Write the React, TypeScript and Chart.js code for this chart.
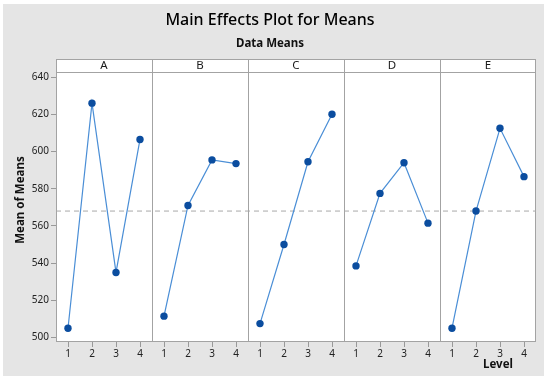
import React, { useEffect, useRef } from "react";
import { Chart, registerables } from "chart.js";

Chart.register(...registerables);

const titleText = "Main Effects Plot for Means";
const subtitleText = "Data Means";
const yAxisTitle = "Mean of Means";
const xAxisTitle = "Level";

const factors = ["A", "B", "C", "D", "E"];
const levels = [1, 2, 3, 4];
const meansA = [505, 626, 535, 606.5];
const meansB = [511.5, 571, 595.5, 593.5];
const meansC = [507.5, 550, 594.5, 620];
const meansD = [538.5, 577.5, 594, 561.5];
const meansE = [505, 568, 612.5, 586.5];
const seriesMeans = [meansA, meansB, meansC, meansD, meansE];
const grandMean = 568;
const yTicks = [500, 520, 540, 560, 580, 600, 620, 640];

const PANEL = 4; // x units per panel (levels 1..4 with half-unit margins)
const FONT = "'Noto Sans', 'Open Sans', sans-serif";

const toX = (panel: number, level: number) => panel * PANEL + level - 0.5;

const facetPlugin = {
  id: "facets",
  beforeDraw(chart: any) {
    const { ctx, chartArea } = chart;
    ctx.save();
    ctx.fillStyle = "#ffffff";
    ctx.fillRect(chartArea.left, chartArea.top - 13, chartArea.right - chartArea.left, chartArea.bottom - chartArea.top + 13);
    ctx.restore();
  },
  beforeDatasetsDraw(chart: any) {
    const { ctx, chartArea, scales } = chart;
    const x = scales.x;
    const stripTop = chartArea.top - 13;
    ctx.save();
    ctx.strokeStyle = "#a3a3a3";
    ctx.lineWidth = 1;
    for (let i = 1; i < factors.length; i++) {
      const px = Math.round(x.getPixelForValue(i * PANEL)) + 0.5;
      ctx.beginPath();
      ctx.moveTo(px, stripTop);
      ctx.lineTo(px, chartArea.bottom);
      ctx.stroke();
    }
    const l = Math.round(chartArea.left) + 0.5;
    const r = Math.round(chartArea.right) - 0.5;
    const t = Math.round(chartArea.top) + 0.5;
    const b = Math.round(chartArea.bottom) - 0.5;
    ctx.strokeRect(l, Math.round(stripTop) + 0.5, r - l, b - Math.round(stripTop) - 0.5);
    ctx.beginPath();
    ctx.moveTo(l, t);
    ctx.lineTo(r, t);
    ctx.stroke();
    ctx.fillStyle = "#1a1a1a";
    ctx.font = `11.5px ${FONT}`;
    ctx.textAlign = "center";
    ctx.textBaseline = "middle";
    factors.forEach((f, i) => {
      const cx = x.getPixelForValue(i * PANEL + PANEL / 2);
      ctx.fillText(f, cx, stripTop + 6.5);
    });
    ctx.restore();
  },
  afterDraw(chart: any) {
    const { ctx, chartArea } = chart;
    ctx.save();
    ctx.fillStyle = "#111111";
    ctx.font = `bold 11.5px ${FONT}`;
    ctx.textAlign = "center";
    ctx.textBaseline = "middle";
    ctx.fillText(xAxisTitle, chartArea.right - 38, chartArea.bottom + 23);
    ctx.translate(21, (chartArea.top + chartArea.bottom) / 2 - 7);
    ctx.rotate(-Math.PI / 2);
    ctx.fillText(yAxisTitle, 0, 0);
    ctx.restore();
  },
};

export default function App() {
  const canvasRef = useRef<HTMLCanvasElement | null>(null);

  useEffect(() => {
    if (!canvasRef.current) return;
    const datasets: any[] = factors.map((f, i) => ({
      label: f,
      data: levels.map((L, j) => ({ x: toX(i, L), y: seriesMeans[i][j] })),
      borderColor: "#4a8ed6",
      borderWidth: 1.2,
      pointRadius: 3.7,
      pointBackgroundColor: "#0b4d9f",
      pointBorderColor: "#0b4d9f",
      pointBorderWidth: 0,
      tension: 0,
      order: 1,
    }));
    datasets.push({
      label: "mean",
      data: [
        { x: 0, y: grandMean },
        { x: factors.length * PANEL, y: grandMean },
      ],
      borderColor: "#a8a8a8",
      borderWidth: 1,
      borderDash: [5, 4],
      pointRadius: 0,
      order: 10,
    });

    const chart = new Chart(canvasRef.current, {
      type: "line",
      data: { datasets },
      options: {
        animation: false,
        responsive: false,
        devicePixelRatio: 1,
        layout: { padding: { left: 4, right: 14, top: 4, bottom: 11 } },
        plugins: {
          legend: { display: false },
          tooltip: { enabled: false },
          title: {
            display: true,
            text: titleText,
            color: "#000000",
            font: { family: FONT, size: 16, weight: "500" },
            padding: { top: 7, bottom: 3 },
          },
          subtitle: {
            display: true,
            text: subtitleText,
            color: "#111111",
            font: { family: FONT, size: 11.5, weight: "bold" },
            padding: { top: 3.5, bottom: 21.6 },
          },
        },
        scales: {
          x: {
            type: "linear",
            min: 0,
            max: factors.length * PANEL,
            afterBuildTicks: (scale: any) => {
              scale.ticks = factors.flatMap((f, i) => levels.map((L) => ({ value: toX(i, L) })));
            },
            afterFit: (scale: any) => {
              scale.height = 30;
            },
            ticks: {
              autoSkip: false,
              maxRotation: 0,
              padding: 1,
              color: "#222222",
              font: { family: FONT, size: 10 },
              callback: (v: any) => String(Math.round(Number(v) + 0.5) - PANEL * Math.floor(Number(v) / PANEL)),
            },
            grid: { display: true, drawOnChartArea: false, drawTicks: true, tickLength: 5, color: "#999999" },
            border: { display: false },
          },
          y: {
            type: "linear",
            min: 497.6,
            max: 642.7,
            afterBuildTicks: (scale: any) => {
              scale.ticks = yTicks.map((v) => ({ value: v }));
            },
            afterFit: (scale: any) => {
              scale.width = 52;
            },
            ticks: {
              padding: 2,
              color: "#222222",
              font: { family: FONT, size: 10 },
            },
            grid: { display: true, drawOnChartArea: false, drawTicks: true, tickLength: 5, color: "#999999" },
            border: { display: false },
          },
        },
      },
      plugins: [facetPlugin],
    } as any);
    return () => chart.destroy();
  }, []);

  return (
    <div style={{ position: "absolute", left: 0, top: 0, width: 550, height: 383, background: "#ffffff" }}>
      <div style={{ position: "absolute", left: 3, top: 4, width: 541, height: 372, background: "#e5e5e5" }} />
      <canvas ref={canvasRef} width={550} height={383} style={{ position: "absolute", left: 0, top: 0, width: 550, height: 383 }} />
    </div>
  );
}
